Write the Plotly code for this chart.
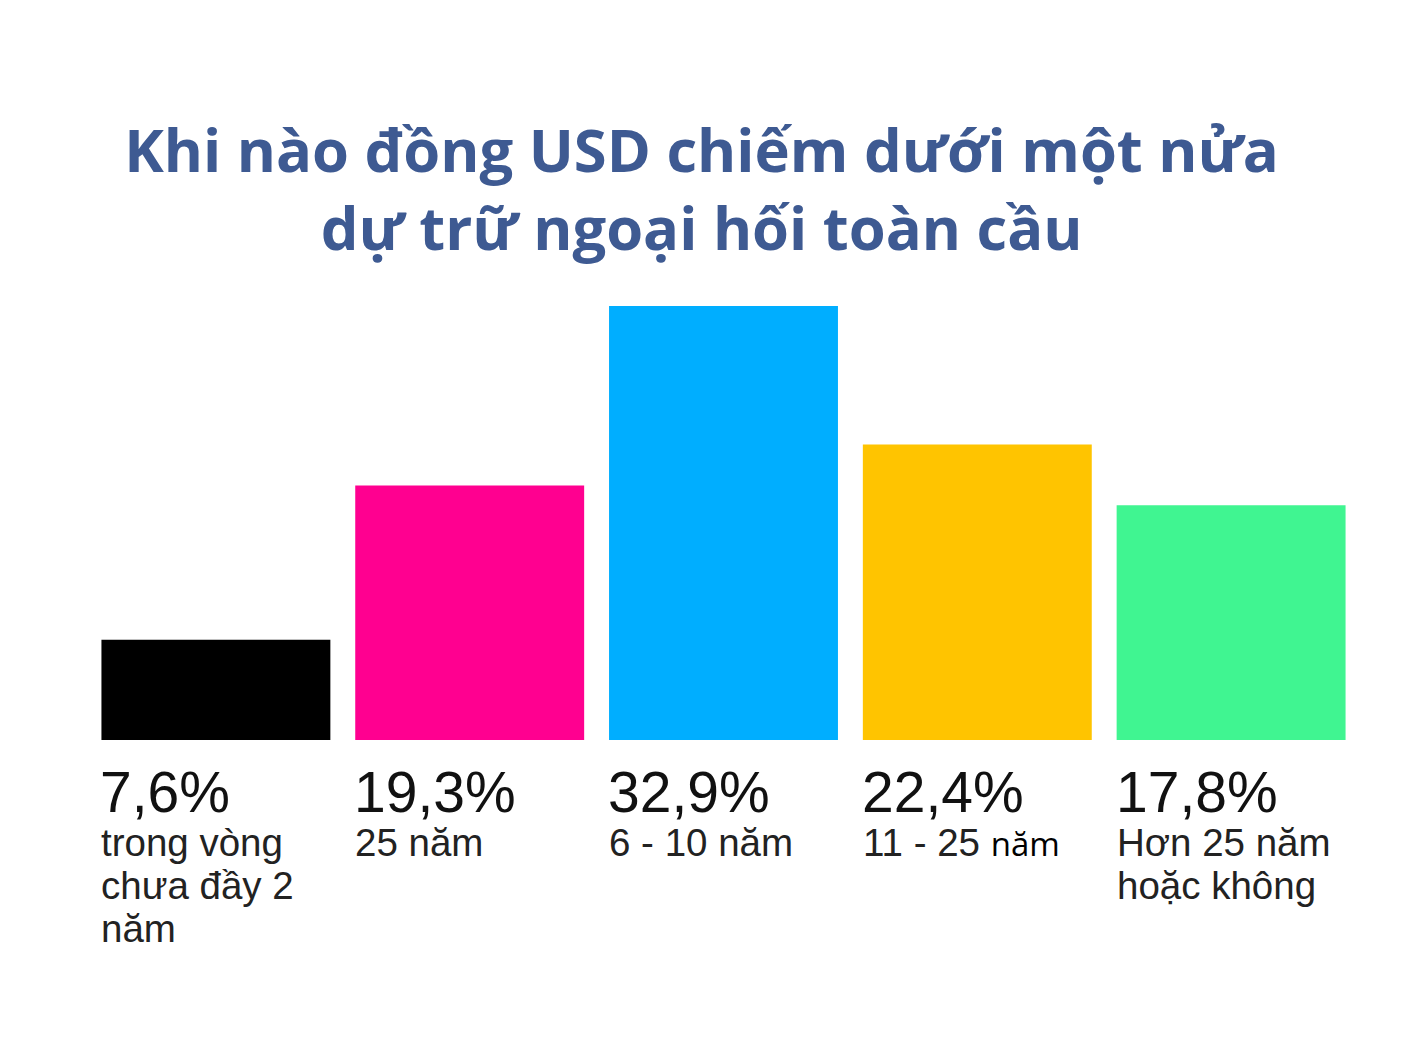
import plotly.graph_objects as go

categories = ["< 2 năm", "25 năm", "6 - 10 năm", "11 - 25 năm", "> 25 năm"]
values = [7.6, 19.3, 32.9, 22.4, 17.8]
pct_labels = ["7,6%", "19,3%", "32,9%", "22,4%", "17,8%"]
sub_labels = [
    ["trong vòng", "chưa đầy 2", "năm"],
    ["25 năm"],
    ["6 - 10 năm"],
    ["11 - 25 <span style='font-family:Open Sans;font-size:33px;color:#000'>năm</span>"],
    ["Hơn 25 năm", "hoặc không"],
]
colors = ["#000000", "#FF0090", "#00AEFF", "#FFC400", "#40F591"]

TITLE = "Khi nào đồng USD chiếm dưới một nửa<br>dự trữ ngoại hối toàn cầu"
LABEL_FONT = "Liberation Sans, Arial, sans-serif"

fig = go.Figure()
fig.add_trace(go.Bar(
    x=list(range(len(categories))), y=values,
    marker_color=colors, marker_line_width=0,
    hoverinfo="skip", showlegend=False,
))

BAR_HALF = 0.451
anns = []
for i, (p, subs) in enumerate(zip(pct_labels, sub_labels)):
    anns.append(dict(
        x=i - BAR_HALF, y=0, xref="x", yref="y",
        xanchor="left", yanchor="top", align="left",
        text=p, showarrow=False, xshift=-3, yshift=-18,
        font=dict(family=LABEL_FONT, size=57, color="#111111"),
    ))
    for j, s in enumerate(subs):
        anns.append(dict(
            x=i - BAR_HALF, y=0, xref="x", yref="y",
            xanchor="left", yanchor="top", align="left",
            text=s, showarrow=False, xshift=-2, yshift=-79 - 43 * j,
            font=dict(family=LABEL_FONT, size=38.5, color="#222222"),
        ))

fig.update_layout(
    width=1414, height=1041,
    paper_bgcolor="white", plot_bgcolor="white",
    margin=dict(l=80.5, r=64.3, t=298, b=309),
    bargap=0.098,
    title=dict(
        text=TITLE, x=0.4905, xanchor="center", y=0.842, yanchor="top",
        font=dict(family="Open Sans, Noto Sans, sans-serif", size=59.7,
                  color="#3E5A92", weight="bold"),
    ),
    annotations=anns,
)
fig.update_xaxes(visible=False, range=[-0.5, 4.5])
fig.update_yaxes(visible=False, range=[0, 32.9])

fig.write_html("out.html")
